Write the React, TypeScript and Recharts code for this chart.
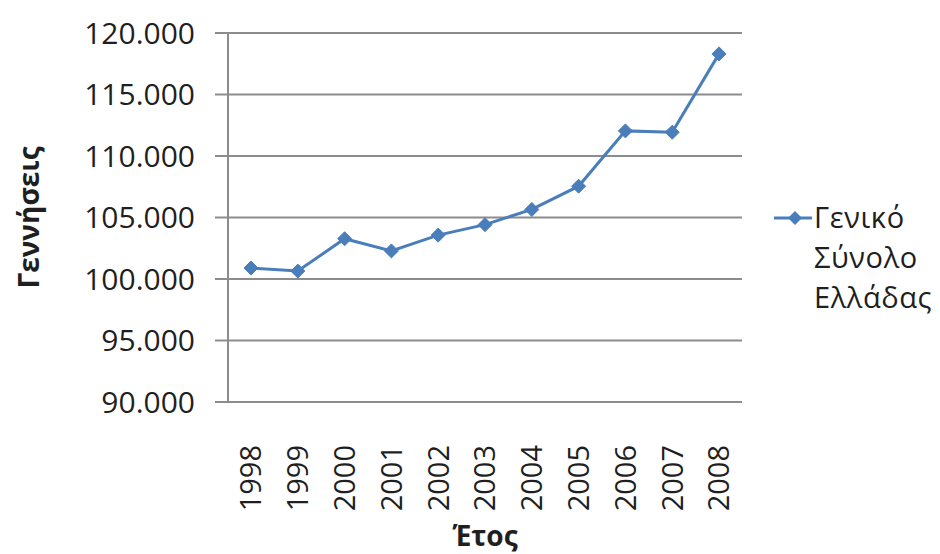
import { LineChart, Line, XAxis, YAxis, CartesianGrid } from "recharts";

const years = ["1998", "1999", "2000", "2001", "2002", "2003", "2004", "2005", "2006", "2007", "2008"];
const births = [100894, 100643, 103274, 102282, 103569, 104420, 105655, 107545, 112042, 111926, 118302];
const yTicks = [90000, 95000, 100000, 105000, 110000, 115000, 120000];
const legendLines = ["Γενικό", "Σύνολο", "Ελλάδας"];

const data = years.map((y, i) => ({ year: y, value: births[i] }));

const BLUE = "#4a7ebb";
const GRID = "#8c8c8c";
const TEXT = "#1f1f1f";
const FONT = "'Open Sans', sans-serif";

// thousands with a dot, Greek style
const fmt = (v: number) => `${Math.round(v / 1000)}.000`;

function Diamond(props: any) {
  const { cx, cy } = props;
  if (cx == null || cy == null) return null;
  const r = 7;
  return (
    <polygon
      points={`${cx},${cy - r} ${cx + r},${cy} ${cx},${cy + r} ${cx - r},${cy}`}
      fill={BLUE}
      stroke={BLUE}
    />
  );
}

function YearTick(props: any) {
  const { x, y, payload } = props;
  return (
    <text
      transform={`translate(${x},${y + 35}) rotate(-90)`}
      textAnchor="end"
      dy="0.36em"
      fill={TEXT}
      fontSize={29}
      fontFamily={FONT}
    >
      {payload.value}
    </text>
  );
}

function LegendBox() {
  return (
    <div
      style={{
        position: "absolute",
        left: 772,
        top: 197,
        fontFamily: FONT,
        fontSize: 29,
        letterSpacing: 0.6,
        color: TEXT,
        lineHeight: "40px",
        whiteSpace: "nowrap",
      }}
    >
      <svg width={42} height={20} style={{ position: "absolute", left: 0, top: 11 }}>
        <line x1={2} y1={10} x2={40} y2={10} stroke={BLUE} strokeWidth={3} />
        <polygon points="23,3 30,10 23,17 16,10" fill={BLUE} />
      </svg>
      <div style={{ marginLeft: 42 }}>
        {legendLines.map((l) => (
          <div key={l}>{l}</div>
        ))}
      </div>
    </div>
  );
}

export default function App() {
  return (
    <div style={{ position: "absolute", left: 0, top: 0, width: 940, height: 554, background: "#fff", overflow: "hidden" }}>
      <LineChart width={940} height={554} data={data} margin={{ top: 33, right: 198, bottom: 0, left: 0 }}>
        <CartesianGrid vertical={false} stroke={GRID} strokeWidth={2} />
        <XAxis
          dataKey="year"
          height={152}
          padding={{ left: 23, right: 23 }}
          tickLine={false}
          axisLine={{ stroke: GRID, strokeWidth: 2 }}
          tick={<YearTick />}
          interval={0}
          label={{
            value: "Έτος",
            position: "insideBottom",
            offset: 8,
            style: { fill: TEXT, fontSize: 28, fontWeight: 700, fontFamily: FONT },
          }}
        />
        <YAxis
          width={228}
          domain={[90000, 120000]}
          ticks={yTicks}
          tickFormatter={fmt}
          tickSize={13}
          tickMargin={20}
          tickLine={{ stroke: GRID, strokeWidth: 2 }}
          axisLine={{ stroke: GRID, strokeWidth: 2 }}
          tick={{ fill: TEXT, fontSize: 30, fontFamily: FONT }}
          label={{
            value: "Γεννήσεις",
            angle: -90,
            position: "insideLeft",
            offset: 29,
            style: { fill: TEXT, fontSize: 28, fontWeight: 700, fontFamily: FONT, textAnchor: "middle" },
          }}
        />
        <Line
          type="linear"
          dataKey="value"
          name="Γενικό Σύνολο Ελλάδας"
          stroke={BLUE}
          strokeWidth={3}
          dot={<Diamond />}
          activeDot={false}
          isAnimationActive={false}
        />
      </LineChart>
      <LegendBox />
    </div>
  );
}
